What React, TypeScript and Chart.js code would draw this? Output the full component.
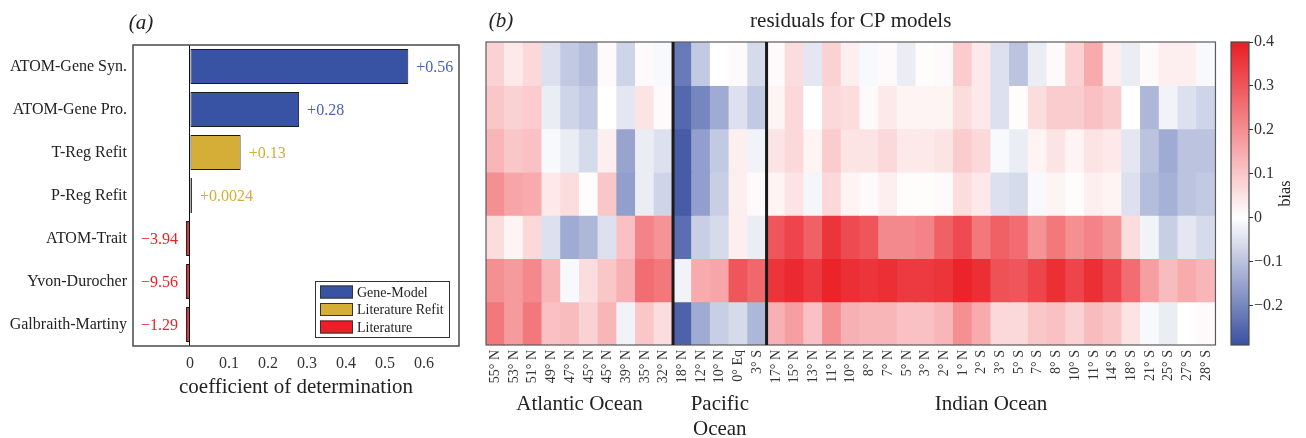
import React, { useEffect, useRef } from "react";
import { Chart, registerables } from "chart.js";

Chart.register(...registerables);

const FONT = "'Liberation Serif', 'Times New Roman', serif";

// ---------- panel (a) data ----------
const models = [
  "ATOM-Gene Syn.",
  "ATOM-Gene Pro.",
  "T-Reg Refit",
  "P-Reg Refit",
  "ATOM-Trait",
  "Yvon-Durocher",
  "Galbraith-Martiny",
];
const r2 = [0.56, 0.28, 0.13, 0.0024, -3.94, -9.56, -1.29];
const modelGroup = [0, 0, 1, 1, 2, 2, 2];
const groupNames = ["Gene-Model", "Literature Refit", "Literature"];
const groupColors = ["#3953a4", "#d4ae37", "#ed1f26"];
const labelColors = ["#4b63b6", "#d4ae37", "#ed1f26"];
const r2Ticks = [0, 0.1, 0.2, 0.3, 0.4, 0.5, 0.6];
const NEG_STUB = -0.01; // negative scores are shown as a short stub left of zero

// ---------- panel (b) data ----------
const stations = [
  "55° N", "53° N", "51° N", "49° N", "47° N", "45° N", "45° N", "39° N", "35° N", "32° N",
  "18° N", "12° N", "10° N", "0° Eq", "3° S",
  "17° N", "15° N", "13° N", "11° N", "10° N", "8° N", "7° N", "5° N", "3° N", "2° N", "1° N",
  "2° S", "3° S", "5° S", "7° S", "8° S", "10° S", "11° S", "14° S", "18° S", "21° S", "25° S", "27° S", "28° S",
];
const oceanNames = [["Atlantic Ocean"], ["Pacific", "Ocean"], ["Indian Ocean"]];
const oceanSizes = [10, 5, 24];

const biasRow1 = [
  0.08, 0.04, 0.07, -0.05, -0.09, -0.11, 0.01, -0.07, 0.01, -0.01,
  -0.22, -0.09, 0.0, 0.01, -0.06,
  0.01, 0.06, -0.04, 0.08, 0.03, -0.01, 0.01, -0.03, 0.005, 0.01, 0.09, 0.04,
  -0.05, -0.1, -0.03, 0.01, 0.08, 0.15, 0.03, -0.03, 0.01, 0.03, 0.03, -0.01,
];
const biasRow2 = [
  0.1, 0.08, 0.09, -0.03, -0.07, -0.09, 0.0, -0.04, 0.05, 0.01,
  -0.25, -0.2, -0.14, -0.05, -0.09,
  0.02, 0.07, 0.0, 0.07, 0.06, 0.01, 0.04, 0.02, 0.02, 0.02, 0.06, 0.04,
  -0.05, 0.005, 0.06, 0.09, 0.09, 0.11, 0.09, 0.0, -0.12, -0.02, -0.05, -0.07,
];
const biasRow3 = [
  0.13, 0.1, 0.11, -0.01, -0.03, -0.06, 0.03, -0.15, -0.03, -0.05,
  -0.27, -0.16, -0.09, 0.03, -0.02,
  0.05, 0.07, 0.02, 0.09, 0.05, 0.05, 0.07, 0.04, 0.04, 0.05, 0.09, 0.07,
  -0.01, -0.03, 0.02, 0.05, 0.02, 0.05, 0.04, -0.04, -0.1, -0.14, -0.1, -0.1,
];
const biasRow4 = [
  0.2, 0.16, 0.15, 0.04, 0.06, 0.005, 0.1, -0.16, -0.03, -0.07,
  -0.27, -0.16, -0.08, 0.03, 0.01,
  0.02, 0.05, -0.015, 0.07, 0.02, 0.01, 0.03, 0.005, 0.005, 0.01, 0.06, 0.04,
  -0.05, -0.06, -0.01, 0.02, 0.005, 0.03, 0.02, -0.05, -0.11, -0.13, -0.1, -0.09,
];
const biasRow5 = [
  0.06, 0.02, 0.07, -0.05, -0.14, -0.12, -0.05, 0.11, 0.22, 0.19,
  -0.24, -0.08, -0.06, 0.03, -0.03,
  0.3, 0.33, 0.28, 0.36, 0.32, 0.3, 0.21, 0.21, 0.22, 0.28, 0.32, 0.24,
  0.28, 0.26, 0.19, 0.24, 0.2, 0.22, 0.19, 0.06, -0.02, -0.08, -0.04, -0.06,
];
const biasRow6 = [
  0.2, 0.18, 0.21, 0.13, -0.01, 0.06, 0.1, 0.14, 0.26, 0.24,
  -0.02, 0.15, 0.16, 0.3, 0.27,
  0.36, 0.38, 0.35, 0.39, 0.37, 0.36, 0.37, 0.35, 0.35, 0.36, 0.39, 0.37,
  0.31, 0.3, 0.33, 0.37, 0.33, 0.37, 0.33, 0.26, 0.17, 0.12, 0.15, 0.13,
];
const biasRow7 = [
  0.24, 0.18, 0.24, 0.11, 0.12, 0.08, 0.13, -0.02, 0.1, 0.06,
  -0.26, -0.14, -0.08, -0.06, -0.12,
  0.14, 0.17, 0.11, 0.2, 0.14, 0.13, 0.13, 0.11, 0.11, 0.13, 0.2, 0.15,
  0.07, 0.07, 0.1, 0.11, 0.08, 0.12, 0.1, 0.05, -0.01, -0.03, 0.0, 0.01,
];
const biasRows = [biasRow1, biasRow2, biasRow3, biasRow4, biasRow5, biasRow6, biasRow7];
const biasTicks = [-0.2, -0.1, 0, 0.1, 0.2, 0.3, 0.4];
const VMIN = -0.29;
const VMAX = 0.4;

const RED = [233, 30, 37];
const BLUE = [57, 80, 161];
const WHITE = [255, 255, 255];

function mix(a: number[], b: number[], t: number) {
  const c = a.map((av, i) => Math.round(av + (b[i] - av) * t));
  return `rgb(${c[0]},${c[1]},${c[2]})`;
}
function biasColor(v: number) {
  if (v >= 0) return mix(WHITE, RED, Math.min(v / VMAX, 1));
  return mix(WHITE, BLUE, Math.min(v / VMIN, 1));
}
function fmtSigned(v: number) {
  return v >= 0 ? "+" + String(v) : "\u2212" + String(Math.abs(v));
}
function fmtTick(v: number) {
  if (Math.abs(v) < 1e-9) return "0";
  const s = Math.abs(v).toFixed(1);
  return v < 0 ? "\u2212" + s : s;
}

const framePlugin = (color: string, width: number) => ({
  id: "frame",
  afterDraw(chart: any) {
    const { ctx, chartArea: a } = chart;
    ctx.save();
    ctx.strokeStyle = color;
    ctx.lineWidth = width;
    ctx.strokeRect(a.left, a.top, a.right - a.left, a.bottom - a.top);
    ctx.restore();
  },
});

export default function App() {
  const refA = useRef<HTMLCanvasElement>(null);
  const refB = useRef<HTMLCanvasElement>(null);
  const refC = useRef<HTMLCanvasElement>(null);

  useEffect(() => {
    const charts: Chart[] = [];

    // ----- panel (a) -----
    const barLabels = {
      id: "barLabels",
      afterDatasetsDraw(chart: any) {
        const { ctx } = chart;
        const meta = chart.getDatasetMeta(0);
        ctx.save();
        ctx.font = `16px ${FONT}`;
        ctx.textBaseline = "middle";
        meta.data.forEach((el: any, i: number) => {
          const { x, y } = el.getProps(["x", "y"], true);
          ctx.fillStyle = labelColors[modelGroup[i]];
          if (r2[i] >= 0) {
            ctx.textAlign = "left";
            ctx.fillText(fmtSigned(r2[i]), x + 8, y + 1);
          } else {
            ctx.textAlign = "right";
            ctx.fillText(fmtSigned(r2[i]), x - 8, y + 1);
          }
        });
        ctx.restore();
      },
    };
    const legendA = {
      id: "legendA",
      afterDraw(chart: any) {
        const { ctx, chartArea: a } = chart;
        const bw = 134, bh = 56;
        const bx = a.right - 144, by = a.bottom - 65;
        ctx.save();
        ctx.fillStyle = "#fff";
        ctx.fillRect(bx, by, bw, bh);
        ctx.strokeStyle = "#333";
        ctx.lineWidth = 1;
        ctx.strokeRect(bx + 0.5, by + 0.5, bw, bh);
        ctx.font = `14px ${FONT}`;
        ctx.textBaseline = "middle";
        ctx.textAlign = "left";
        groupNames.forEach((name, i) => {
          const cy = by + 11 + i * 17.5;
          ctx.fillStyle = groupColors[i];
          ctx.fillRect(bx + 5, cy - 6.5, 33, 13);
          ctx.strokeStyle = "#333";
          ctx.strokeRect(bx + 5.5, cy - 6, 32, 12);
          ctx.fillStyle = "#222";
          ctx.fillText(name, bx + 42, cy + 1);
        });
        ctx.restore();
      },
    };
    const titleA = {
      id: "titleA",
      afterDraw(chart: any) {
        const { ctx } = chart;
        ctx.save();
        ctx.font = `italic 21px ${FONT}`;
        ctx.fillStyle = "#222";
        ctx.textAlign = "center";
        ctx.textBaseline = "middle";
        ctx.fillText("(a)", 141, 23);
        ctx.restore();
      },
    };

    if (refA.current) {
      charts.push(
        new Chart(refA.current, {
          type: "bar",
          data: {
            labels: models,
            datasets: [
              {
                data: r2.map((v) => Math.max(v, NEG_STUB)),
                backgroundColor: modelGroup.map((g) => groupColors[g]),
                borderColor: "#1a1a1a",
                borderWidth: 1,
                borderSkipped: false,
                categoryPercentage: 0.81,
                barPercentage: 1,
                minBarLength: 2,
              },
            ],
          },
          options: {
            indexAxis: "y",
            animation: false,
            responsive: false,
            layout: { padding: { left: 0, top: 45, right: 11, bottom: 0 } },
            plugins: { legend: { display: false }, tooltip: { enabled: false } },
            scales: {
              x: {
                min: -0.146,
                max: 0.69,
                afterBuildTicks: (s: any) => {
                  s.ticks = r2Ticks.map((v) => ({ value: v }));
                },
                ticks: {
                  font: { family: FONT, size: 16 },
                  color: "#333",
                  padding: 8,
                  callback: (v: any) => String(v),
                },
                grid: {
                  drawTicks: false,
                  color: (c: any) => (c.tick && c.tick.value === 0 ? "#111" : "rgba(0,0,0,0)"),
                  lineWidth: 1,
                },
                border: { display: false },
                title: {
                  display: true,
                  text: "coefficient of determination",
                  font: { family: FONT, size: 21 },
                  color: "#222",
                  padding: { top: 0, bottom: 38 },
                },
                afterFit: (s: any) => {
                  s.height = 92;
                },
              },
              y: {
                ticks: { font: { family: FONT, size: 16 }, color: "#222", padding: 6 },
                grid: { display: false, drawTicks: false },
                border: { display: false },
                afterFit: (s: any) => {
                  s.width = 133;
                },
              },
            },
          },
          plugins: [framePlugin("#4a4a4a", 1.5), barLabels, legendA, titleA],
        } as any)
      );
    }

    // ----- panel (b) heatmap -----
    const oceanPlugin = {
      id: "oceans",
      afterDraw(chart: any) {
        const { ctx, chartArea: a, scales } = chart;
        const x = scales.x;
        ctx.save();
        ctx.strokeStyle = "#1a1a1a";
        ctx.lineWidth = 3;
        let start = 0;
        oceanSizes.forEach((n, gi) => {
          if (gi > 0) {
            const px = (x.getPixelForValue(start - 1) + x.getPixelForValue(start)) / 2;
            ctx.beginPath();
            ctx.moveTo(px, a.top);
            ctx.lineTo(px, a.bottom);
            ctx.stroke();
          }
          const cx = (x.getPixelForValue(start) + x.getPixelForValue(start + n - 1)) / 2;
          ctx.font = `21px ${FONT}`;
          ctx.fillStyle = "#222";
          ctx.textAlign = "center";
          ctx.textBaseline = "middle";
          oceanNames[gi].forEach((line, li) => {
            ctx.fillText(line, cx, 404 + li * 25);
          });
          start += n;
        });
        ctx.font = `italic 21px ${FONT}`;
        ctx.fillText("(b)", 31, 21);
        ctx.font = `21px ${FONT}`;
        ctx.fillText("residuals for CP models", (a.left + a.right) / 2, 21);
        ctx.restore();
      },
    };

    if (refB.current) {
      charts.push(
        new Chart(refB.current, {
          type: "bar",
          data: {
            labels: stations,
            datasets: biasRows.map((row) => ({
              data: row.map(() => 1),
              backgroundColor: row.map(biasColor),
              borderWidth: 0,
              barPercentage: 1,
              categoryPercentage: 1,
              inflateAmount: 0.6,
            })),
          },
          options: {
            animation: false,
            responsive: false,
            layout: { padding: { left: 16, right: 6, top: 42, bottom: 0 } },
            plugins: { legend: { display: false }, tooltip: { enabled: false } },
            scales: {
              x: {
                stacked: true,
                offset: true,
                grid: { display: false, drawTicks: false },
                border: { display: false },
                ticks: {
                  font: { family: FONT, size: 14 },
                  color: "#333",
                  autoSkip: false,
                  minRotation: 90,
                  maxRotation: 90,
                  padding: 5,
                },
                afterFit: (s: any) => {
                  s.height = 93;
                },
              },
              y: { display: false, stacked: true, min: 0, max: 7, reverse: true },
            },
          },
          plugins: [framePlugin("#5a5a5a", 1.2), oceanPlugin],
        } as any)
      );
    }

    // ----- colorbar -----
    const biasTitle = {
      id: "biasTitle",
      afterDraw(chart: any) {
        const { ctx, chartArea: a } = chart;
        ctx.save();
        ctx.translate(64, (a.top + a.bottom) / 2);
        ctx.rotate(-Math.PI / 2);
        ctx.font = `16px ${FONT}`;
        ctx.fillStyle = "#222";
        ctx.textAlign = "center";
        ctx.textBaseline = "middle";
        ctx.fillText("bias", 0, 0);
        ctx.restore();
      },
    };

    if (refC.current) {
      charts.push(
        new Chart(refC.current, {
          type: "bar",
          data: {
            labels: ["bias"],
            datasets: [
              {
                data: [[VMIN, VMAX]],
                backgroundColor: (c: any) => {
                  const chart = c.chart;
                  const area = chart.chartArea;
                  if (!area) return "#fff";
                  const g = chart.ctx.createLinearGradient(0, area.bottom, 0, area.top);
                  g.addColorStop(0, mix(BLUE, BLUE, 0));
                  g.addColorStop(-VMIN / (VMAX - VMIN), "#ffffff");
                  g.addColorStop(1, mix(RED, RED, 0));
                  return g;
                },
                borderWidth: 0,
                barPercentage: 1,
                categoryPercentage: 1,
              },
            ],
          },
          options: {
            animation: false,
            responsive: false,
            layout: { padding: { left: 9, right: 0, top: 42, bottom: 93 } },
            plugins: { legend: { display: false }, tooltip: { enabled: false } },
            scales: {
              x: { display: false },
              y: {
                position: "right",
                min: VMIN,
                max: VMAX,
                afterBuildTicks: (s: any) => {
                  s.ticks = biasTicks.map((v) => ({ value: v }));
                },
                ticks: {
                  font: { family: FONT, size: 16 },
                  color: "#333",
                  padding: 1,
                  callback: (v: any) => fmtTick(Number(v)),
                },
                grid: { drawOnChartArea: false, drawTicks: true, tickLength: 4, color: "#333" },
                border: { display: false },
                afterFit: (s: any) => {
                  s.width = 57;
                },
              },
            },
          },
          plugins: [framePlugin("#4a4a4a", 1.2), biasTitle],
        } as any)
      );
    }

    return () => charts.forEach((c) => c.destroy());
  }, []);

  const abs = (left: number, width: number): React.CSSProperties => ({
    position: "absolute",
    left,
    top: 0,
    width,
    height: 438,
  });

  return (
    <div style={{ position: "absolute", left: 0, top: 0, width: 1306, height: 438, background: "#fff" }}>
      <canvas ref={refA} width={470} height={438} style={abs(0, 470)} />
      <canvas ref={refB} width={758} height={438} style={abs(470, 758)} />
      <canvas ref={refC} width={84} height={438} style={abs(1222, 84)} />
    </div>
  );
}
